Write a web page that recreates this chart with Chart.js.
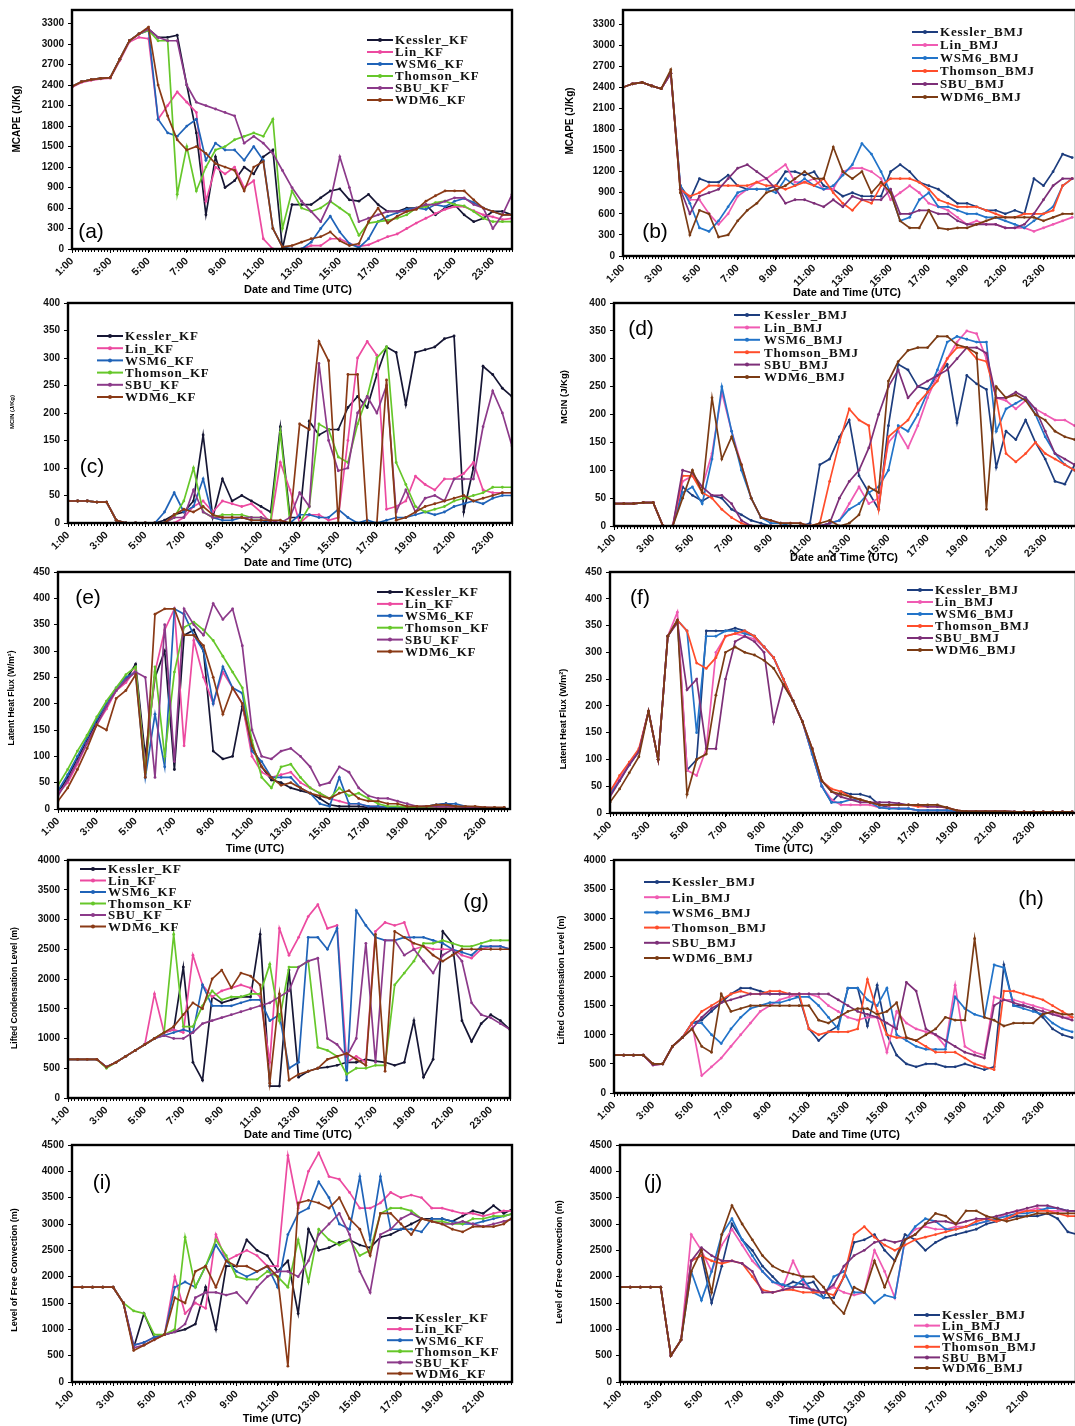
<!DOCTYPE html>
<html><head><meta charset="utf-8">
<script src="https://cdn.jsdelivr.net/npm/chart.js@4.4.1/dist/chart.umd.min.js"></script>
<style>
html,body{margin:0;padding:0;background:#fff;}
body{width:1075px;height:1426px;overflow:hidden;position:relative;}
canvas{position:absolute;}
</style></head><body>
<script>
// ---------- shared axes / names ----------
const hours = [1,1.5,2,2.5,3,3.5,4,4.5,5,5.5,6,6.5,7,7.5,8,8.5,9,9.5,10,10.5,11,11.5,12,12.5,13,13.5,14,14.5,15,15.5,16,16.5,17,17.5,18,18.5,19,19.5,20,20.5,21,21.5,22,22.5,23,23.5,24,24.5,25];
const xTickHours = [1,3,5,7,9,11,13,15,17,19,21,23];
const yTicksCape = [0,300,600,900,1200,1500,1800,2100,2400,2700,3000,3300];
const yTicksCin = [0,50,100,150,200,250,300,350,400];
const yTicksLhf = [0,50,100,150,200,250,300,350,400,450];
const yTicksLcl = [0,500,1000,1500,2000,2500,3000,3500,4000];
const yTicksLfc = [0,500,1000,1500,2000,2500,3000,3500,4000,4500];
const namesKF = ['Kessler_KF','Lin_KF','WSM6_KF','Thomson_KF','SBU_KF','WDM6_KF'];
const namesBMJ = ['Kessler_BMJ','Lin_BMJ','WSM6_BMJ','Thomson_BMJ','SBU_BMJ','WDM6_BMJ'];

// ---------- (a) MCAPE KF ----------
const aKessler = [2380,2450,2480,2500,2510,2780,3050,3150, 3220,3100,3100,3130,2400,1700,500,1350, 900,1000,1200,1100,1350,1450,0,650, 650,650,750,850,880,720,700,800, 650,550,550,600,600,650,500,600, 650,500,400,450,550,550,500];
const aLin = [2370,2440,2470,2490,2500,2760,3030,3100, 3080,1900,2100,2300,2150,2000,700,1200, 1100,1200,900,1000,150,0,0,0, 0,50,50,150,150,80,40,60, 120,180,220,300,380,450,520,580, 620,620,560,500,470,430,450];
const aWSM6 = [2380,2450,2480,2500,2510,2780,3050,3150, 3200,1900,1700,1650,1800,1900,1300,1550, 1450,1450,1300,1500,1300,300,30,0, 0,100,300,480,250,80,20,150, 400,480,530,580,600,580,650,620, 700,740,680,600,550,500,500];
const aThomson = [2380,2450,2480,2500,2510,2780,3050,3150, 3200,3050,3050,800,1500,850,1200,1450, 1500,1600,1650,1700,1650,1900,300,850, 600,550,600,700,600,500,200,380, 400,420,450,500,600,620,680,700, 650,630,550,450,400,400,400];
const aSBU = [2380,2450,2480,2500,2510,2780,3050,3150, 3220,3100,3050,3050,2400,2150,2100,2050, 2000,1950,1550,1650,1550,1400,1150,900, 700,550,400,700,1350,900,400,450, 500,550,550,550,600,650,650,700, 750,750,650,600,300,500,800];
const aWDM6 = [2380,2450,2480,2500,2510,2780,3050,3150, 3250,2400,1950,1600,1450,1500,1400,1250, 1200,1150,850,1200,1280,300,30,50, 100,150,180,250,120,50,80,400, 600,380,480,550,580,700,780,850, 850,850,720,600,550,500,500];

// ---------- (b) MCAPE BMJ ----------
const bKessler = [2400,2450,2470,2420,2380,2600,1000,800, 1100,1050,1050,1150,1000,950,950,950, 1000,1200,1200,1150,1200,1000,950,850, 900,850,850,850,1200,1300,1200,1050, 1000,950,850,750,750,700,650,650, 600,650,600,1100,1000,1200,1450,1400];
const bLin = [2400,2450,2470,2420,2380,2600,950,800, 800,600,450,600,850,950,1050,1100, 1200,1300,1050,1050,1100,950,950,1200, 1250,1250,1200,1100,800,900,1000,900, 750,700,650,550,450,500,450,450, 400,400,400,350,400,450,500,550];
const bWSM6 = [2400,2450,2470,2420,2380,2600,1000,750, 400,350,500,700,900,950,950,950, 900,1100,1000,1100,1000,950,1000,1150, 1300,1600,1450,1200,900,500,550,800, 900,700,700,650,600,600,550,550, 500,450,400,500,600,700,1000,1100];
const bThomson = [2400,2450,2470,2420,2380,2600,950,850, 900,1000,1000,1000,1000,1000,1050,1000, 1000,950,1000,1050,1000,1100,900,750, 650,800,750,1000,1100,1100,1100,1050, 950,800,750,700,700,700,650,600, 550,550,600,600,600,650,1000,1100];
const bSBU = [2400,2450,2470,2420,2380,2600,950,600, 850,900,950,1100,1250,1300,1200,1100, 950,750,800,800,750,700,800,700, 850,800,800,800,950,600,600,650, 650,600,600,500,450,450,450,450, 400,400,450,600,800,1000,1100,1100];
const bWDM6 = [2400,2450,2470,2420,2380,2650,900,300, 650,600,270,300,500,650,750,900, 950,1000,1100,1200,1100,1100,1550,1200, 1100,1200,900,1050,900,500,400,400, 650,400,380,400,400,450,500,550, 550,550,550,550,500,550,600,600];

// ---------- (c) MCIN KF ----------
const cKessler = [40,40,40,38,38,5,0,0, 0,0,5,15,20,40,160,10, 80,40,50,40,30,20,175,10, 10,185,160,170,170,210,230,210, 270,320,310,215,310,315,320,335, 340,20,100,285,270,245,230];
const cLin = [40,40,40,38,38,5,0,0, 0,0,0,0,10,30,40,20, 40,35,30,35,20,0,110,60, 0,15,15,5,10,150,300,330, 305,25,30,40,85,70,60,80, 80,90,110,60,55,55,55];
const cWSM6 = [40,40,40,38,38,5,0,0, 0,0,20,55,20,30,80,10, 5,5,10,5,5,0,0,0, 15,15,10,10,25,10,0,5, 0,5,10,10,15,20,15,20, 30,35,40,35,45,50,50];
const cThomson = [40,40,40,38,38,5,0,0, 0,0,0,10,40,100,20,10, 15,15,15,10,10,5,165,0, 0,30,180,170,120,110,180,230, 300,320,110,70,30,20,25,30, 40,45,50,55,65,65,65];
const cSBU = [40,40,40,38,38,5,0,0, 0,0,0,10,10,60,20,10, 10,10,10,10,10,5,0,10, 55,30,290,150,95,100,200,230, 200,250,20,60,20,45,50,40, 80,80,80,175,240,200,140];
const cWDM6 = [40,40,40,38,38,5,0,0, 0,0,0,15,25,20,30,15, 10,10,10,5,5,5,5,0, 180,170,330,295,0,270,270,0, 0,260,5,10,20,30,35,40, 45,50,40,45,50,55,55];

// ---------- (d) MCIN BMJ ----------
const dKessler = [40,40,40,42,42,0,0,70, 55,45,55,50,30,20,10,5, 0,0,0,0,5,110,120,160, 190,90,60,30,180,290,280,250, 245,270,290,185,270,255,245,105, 170,155,190,150,120,80,75,110];
const dLin = [40,40,40,42,42,0,0,80, 90,70,130,240,170,110,50,15, 10,5,5,5,0,0,5,10, 40,70,40,50,150,170,140,180, 230,270,300,330,350,345,300,230, 225,210,225,210,200,190,190,180];
const dWSM6 = [40,40,40,42,42,0,0,60, 70,40,120,250,170,100,50,15, 5,5,0,0,0,0,5,10, 30,40,60,70,100,180,170,200, 240,280,330,340,335,330,330,170, 210,220,230,200,160,130,110,100];
const dThomson = [40,40,40,42,42,0,0,90, 90,60,50,30,15,5,0,0, 0,0,0,0,0,5,80,150, 210,190,180,30,160,175,190,220, 240,260,300,320,320,300,295,230, 130,115,130,150,130,120,110,100];
const dSBU = [40,40,40,42,42,0,0,100, 95,70,55,55,40,10,0,0, 0,0,0,0,0,0,5,50, 80,100,140,200,250,280,230,250, 260,270,280,300,320,320,310,230, 230,240,230,210,170,130,120,110];
const dWDM6 = [40,40,40,42,42,0,0,50, 100,60,230,120,160,110,50,15, 10,5,5,5,0,5,10,0, 5,20,70,60,260,295,315,320, 320,340,340,325,320,310,30,250, 230,235,225,200,190,170,160,155];

// ---------- (e) Latent heat flux KF ----------
const eKessler = [30,60,95,130,165,195,225,245, 275,100,250,300,75,330,340,300, 110,95,100,195,120,80,55,50, 40,35,30,20,8,5,5,5, 3,3,3,3,3,3,5,8, 10,5,3,2,2,2,2];
const eLin = [30,50,85,125,160,190,225,240, 265,80,260,340,380,120,320,250, 200,260,230,200,100,70,60,65, 70,50,40,30,20,15,10,10, 5,5,3,3,3,3,3,3, 3,3,3,2,2,2,2];
const eWSM6 = [35,65,100,135,170,200,230,250, 260,60,180,80,380,370,330,300, 200,270,230,220,110,90,60,60, 60,40,30,10,5,60,10,10, 5,5,3,3,3,3,5,8, 10,10,5,3,2,2,2];
const eThomson = [45,75,110,140,175,205,230,255, 270,70,270,100,260,345,355,340, 320,290,260,230,130,60,40,80, 85,60,40,30,20,40,25,30, 20,10,5,5,3,3,3,5, 5,5,3,3,2,2,2];
const eSBU = [25,55,90,125,160,195,225,245, 260,250,60,350,90,380,350,330, 390,360,380,310,150,100,95,110, 115,100,80,45,50,80,70,40, 25,20,20,15,10,5,5,5, 5,5,3,3,3,2,2];
const eWDM6 = [15,40,75,115,160,150,210,225, 255,60,370,380,380,330,330,310, 250,180,230,200,120,80,60,45, 50,40,30,25,20,30,35,20, 15,15,10,10,5,5,5,8, 8,5,5,5,3,3,3];

// ---------- (f) Latent heat flux BMJ ----------
const fKessler = [40,65,90,115,190,100,330,360, 80,100,340,340,340,345,340,330, 310,290,250,210,170,110,50,20, 40,35,35,30,15,10,8,8, 5,5,5,5,3,3,3,3, 3,3,2,2,2,2,2,2,2];
const fLin = [40,65,90,115,190,100,330,375, 80,70,120,300,330,335,330,325, 310,290,250,210,170,110,50,25, 15,15,15,15,10,10,8,8, 5,5,5,5,3,3,3,3, 3,3,2,2,2,2,2,2,2];
const fWSM6 = [35,60,90,115,190,100,330,360, 340,150,330,330,340,340,335,330, 310,290,250,210,170,110,50,20, 20,25,25,20,10,8,8,8, 5,5,5,5,3,3,3,3, 3,3,2,2,2,2,2,2,2];
const fThomson = [40,70,95,120,190,100,330,360, 340,280,270,290,330,335,340,330, 310,290,250,210,170,120,60,45, 40,30,25,20,15,15,15,15, 12,12,12,10,5,3,3,3, 3,3,2,2,2,2,2,2,2];
const fSBU = [30,60,90,115,190,100,330,355, 230,250,120,120,250,320,330,320, 300,170,240,210,170,120,60,40, 30,25,20,20,20,20,18,15, 15,12,12,10,5,3,3,3, 3,3,2,2,2,2,2,2,2];
const fWDM6 = [20,45,75,105,190,100,330,360, 35,100,110,220,300,310,300,295, 285,270,240,210,170,120,60,40, 35,30,25,20,15,15,15,15, 15,15,15,10,5,3,3,3, 3,3,2,2,2,2,2,2,2];

// ---------- (g) LCL KF ----------
const gKessler = [650,650,650,650,520,600,700,800, 900,1000,1100,1150,2200,600,300,1700, 1600,1650,1700,1700,2750,200,200,2150, 350,450,500,520,550,600,600,650, 620,600,550,600,1300,350,650,2800, 2600,1300,950,1250,1400,1300,1150];
const gLin = [650,650,650,650,520,600,700,800, 900,1750,1100,1150,1100,2400,1900,1700, 1800,1850,1900,1850,1700,600,2850,2400, 2700,3050,3250,2850,2900,600,700,600, 2800,2950,2900,2950,2500,2550,2500,2500, 2500,2400,2350,2500,2550,2550,2500];
const gWSM6 = [650,650,650,650,520,600,700,800, 900,1000,1050,1100,1150,1100,1900,1550, 1550,1550,1600,1650,1650,1300,1400,500, 600,2700,2700,2500,2850,300,3150,2900, 2700,2650,2650,2700,2700,2700,2650,2600, 2500,2450,2400,2550,2550,2550,2500];
const gThomson = [650,650,650,650,500,600,700,800, 900,1000,1100,2750,1200,1200,1550,1800, 1650,1700,1700,1750,1750,2250,1300,2200, 2200,2300,850,800,700,400,500,500, 550,550,1900,2100,2300,2600,2600,2650, 2600,2550,2550,2600,2650,2650,2650];
const gSBU = [650,650,650,650,520,600,700,800, 900,1000,1050,1000,1000,1100,1250,1300, 1350,1400,1450,1500,1550,1600,1700,1800, 2200,2300,2350,1000,900,700,1000,2600, 600,2650,2650,2400,2500,2300,2100,2400, 2500,2300,1600,1400,1350,1250,1150];
const gWDM6 = [650,650,650,650,520,600,700,800, 900,1000,1100,1200,1400,1600,1500,2000, 2150,1850,2100,2050,1900,250,1750,300, 400,450,500,650,700,750,650,550, 2750,450,2800,2700,2600,2550,2400,2300, 2400,2500,2500,2500,2500,2500,2500];

// ---------- (h) LCL BMJ ----------
const hKessler = [650,650,650,650,500,500,800,950, 1200,1250,1400,1550,1700,1800,1800,1750, 1700,1700,1700,1650,1100,900,1050,1150, 1800,1800,1150,1850,1000,650,500,450, 500,500,450,450,500,450,400,450, 2200,1500,1500,1450,1300,1100,1000,950];
const hLin = [650,650,650,650,480,500,800,950, 1200,300,450,600,800,1000,1200,1400, 1500,1600,1650,1700,1700,1650,1500,1400, 1300,1250,1300,1300,700,1400,1200,1100, 1050,1000,800,1850,800,700,650,1650, 1600,1600,1550,1500,1450,1400,1300,1300];
const hWSM6 = [650,650,650,650,500,500,800,950, 1200,1200,1000,850,1100,1300,1450,1500, 1550,1550,1600,1650,1650,1500,1300,1100, 1800,1800,1600,1500,1800,1000,900,800, 750,750,750,1650,1450,1350,1300,2200, 2150,1500,1450,1400,1350,1200,1100,1050];
const hThomson = [650,650,650,650,500,500,800,950, 1200,1400,1500,1600,1700,1750,1700,1700, 1750,1750,1700,1700,1100,1000,1050,1050, 1050,1100,1950,1400,1000,950,950,900, 800,700,700,700,600,500,450,400, 1750,1750,1700,1650,1600,1500,1400,1300];
const hSBU = [650,650,650,650,480,500,800,950, 1100,1300,1450,1550,1600,1650,1700,1700, 1700,1700,1700,1700,1700,1700,1700,1600, 1500,1400,1350,1300,1200,1100,1900,1750, 1100,1000,900,800,700,650,600,1500, 1600,1550,1500,1450,1400,1350,1300,1250];
const hWDM6 = [650,650,650,650,500,500,800,950, 1100,800,700,1700,1400,1450,1500,1500, 1500,1500,1500,1500,1500,1250,1200,1300, 1400,1450,1450,1350,1400,1550,950,900, 1000,1100,1300,1250,1250,2650,1300,1250, 1150,1200,1200,1200,1350,1400,1350,1350];

// ---------- (i) LFC KF ----------
const iKessler = [1800,1800,1800,1800,1800,1500,650,1300, 850,900,950,1000,1100,1800,1000,2200, 2200,2700,2500,2400,2100,2300,1300,2900, 2500,2550,2650,2700,2600,2550,2750,2800, 2900,3000,3100,3100,3100,3050,3150,3250, 3200,3350,3200,3300];
const iLin = [1800,1800,1800,1800,1800,1500,700,750, 850,900,2000,1300,1500,1400,2800,2300, 2400,2500,2400,2200,2200,4300,3300,4000, 4350,3900,3850,3600,3300,3300,3400,3600, 3500,3550,3500,3300,3300,3250,3200,3200, 3150,3200,3250,3250];
const iWSM6 = [1800,1800,1800,1800,1800,1500,700,750, 850,900,1800,1900,1800,2200,2600,2300, 2100,2000,2100,2200,1800,2800,3200,3300, 3800,3500,3000,2900,3900,2700,3900,2900, 2900,2900,2850,3100,3100,3050,3000,3000, 3050,3100,3150,3200];
const iThomson = [1800,1800,1800,1800,1800,1500,1350,1300, 900,900,1000,2750,1800,2200,2700,2400, 2000,1950,1950,2100,2000,1800,2700,1900, 2900,2700,2600,2700,2400,2500,3200,3300, 3300,3250,3100,3050,3050,3000,3000,3100, 3100,3150,3150,3200];
const iSBU = [1800,1800,1800,1800,1800,1500,650,700, 800,900,950,1100,1600,1700,1700,1650, 1700,1500,1800,2000,2100,2100,2000,2300, 2800,3000,3200,2800,2100,1700,2800,2900, 3100,3200,3100,3050,3000,3000,3050,3000, 2950,3000,3050,3100];
const iWDM6 = [1800,1800,1800,1800,1800,1500,600,700, 800,900,1600,1500,2100,2200,1800,2300, 2200,2200,2100,2200,2000,300,3400,3450, 3400,3300,3500,3100,2900,2400,3200,3200, 3000,2800,3100,3050,3000,2900,2850,2950, 2950,2950,3000,3150];

// ---------- (j) LFC BMJ ----------
const jKessler = [1800,1800,1800,1800,1800,500,800,2300, 2400,1500,2200,3000,2700,2500,2200,2000, 1800,1900,1850,1900,1600,1600,2000,2650, 2700,2800,2500,2300,2800,2700,2500,2650, 2750,2800,2850,2900,3000,3050,3100,3150, 3150,3150,3200,3100,2850,2800];
const jLin = [1800,1800,1800,1800,1800,500,800,2800, 2500,2100,2600,2900,2600,2300,2100,1900, 1800,2300,1900,1700,1700,1800,1700,1650, 1700,2500,2100,1600,2700,2900,2950,2900, 2900,2950,2950,3000,3050,3100,3200,3250, 3250,3300,3250,3250,3250,3250];
const jWSM6 = [1800,1800,1800,1800,1800,500,800,2100, 1550,2100,2800,3100,2700,2400,2100,1900, 1850,1800,1950,1700,1600,2000,2100,1700, 1700,1500,1650,1600,2700,2950,3100,3050, 2900,2900,2950,3000,3050,3100,3150,3200, 3200,3250,3300,3300,3250,3250];
const jThomson = [1800,1800,1800,1800,1800,500,800,2300, 2400,2300,2250,2300,2250,2000,1750,1700, 1750,1750,1700,1700,1700,1650,2000,2800, 2950,2750,2600,2500,2600,2700,2750,2800, 2850,2900,2950,3050,3100,3050,3100,3200, 3250,3250,3250,3200,3150,3150];
const jSBU = [1800,1800,1800,1800,1800,500,800,2300, 2550,2400,2300,2300,2250,2100,1700,1700, 1750,1800,1800,1750,1700,1850,2200,2400, 2500,2650,2700,2650,2700,2800,3000,3050, 3050,3000,3050,3100,3100,3150,3200,3250, 3300,3350,3350,3300,3250,3250];
const jWDM6 = [1800,1800,1800,1800,1800,500,800,2100, 2500,1700,2800,3350,3000,2700,2400,2200, 2100,2050,2000,2000,1800,1500,1300,1800, 1700,2300,1800,2300,2700,2800,3000,3200, 3150,3000,3250,3250,3150,3100,3050,3100, 3150,3200,3200,3200,3200,3200];

// ---------- styles ----------
const colorsKF = ['#161634','#ec4aa0','#1f63b8','#66c72a','#8c3a8a','#8a3a16'];
const colorsBMJ = ['#1d3d7e','#f05bb3','#2274c9','#ff4d2b','#7d2f78','#7b3b14'];
Chart.defaults.font.family = '"Liberation Sans", Arial, sans-serif';

const panels = [
  {id:'a', cx:0, cy:0, cw:537, ch:298, L:72, R:512, T:10, B:249, xmax:24, xtMax:23, ymax:3500, yt:yTicksCape, kind:'KF',
   series:[aKessler,aLin,aWSM6,aThomson,aSBU,aWDM6], ytitle:'MCAPE (J/Kg)', yfs:10, ytx:17, yty:119,
   xtitle:'Date and Time (UTC)', xtx:298, xty:290, lab:'(a)', labx:91, laby:232, lg:[367,395,40,12]},
  {id:'b', cx:537, cy:0, cw:553, ch:300, L:623, R:1076, T:10, B:256, xmax:24.7, xtMax:23, ymax:3500, yt:yTicksCape, kind:'BMJ',
   series:[bKessler,bLin,bWSM6,bThomson,bSBU,bWDM6], ytitle:'MCAPE (J/Kg)', yfs:10, ytx:570, yty:121,
   xtitle:'Date and Time (UTC)', xtx:847, xty:293, lab:'(b)', labx:655, laby:232, lg:[912,940,32,13]},
  {id:'c', cx:0, cy:289, cw:537, ch:281, L:68, R:512, T:303, B:523, xmax:24, xtMax:23, ymax:400, yt:yTicksCin, kind:'KF',
   series:[cKessler,cLin,cWSM6,cThomson,cSBU,cWDM6], ytitle:'MCIN (J/Kg)', yfs:6, ytx:12, yty:412,
   xtitle:'Date and Time (UTC)', xtx:298, xty:563, lab:'(c)', labx:92, laby:467, lg:[97,125,336,12.2]},
  {id:'d', cx:537, cy:289, cw:553, ch:277, L:614, R:1076, T:303, B:526, xmax:24.57, xtMax:23, ymax:400, yt:yTicksCin, kind:'BMJ',
   series:[dKessler,dLin,dWSM6,dThomson,dSBU,dWDM6], ytitle:'MCIN (J/Kg)', yfs:9.5, ytx:564, yty:397,
   xtitle:'Date and Time (UTC)', xtx:844, xty:558, lab:'(d)', labx:641, laby:329, lg:[734,764,315,12.4]},
  {id:'e', cx:0, cy:558, cw:537, ch:299, L:58, R:510, T:572, B:809, xmax:24.3, xtMax:23, ymax:450, yt:yTicksLhf, kind:'KF',
   series:[eKessler,eLin,eWSM6,eThomson,eSBU,eWDM6], ytitle:'Latent Heat Flux (W/m\u00B2)', yfs:8.5, ytx:12, yty:698,
   xtitle:'Time (UTC)', xtx:255, xty:849, lab:'(e)', labx:88, laby:598, lg:[377,405,592,11.9]},
  {id:'f', cx:537, cy:558, cw:553, ch:299, L:610, R:1076, T:572, B:813, xmax:25.2, xtMax:23, ymax:450, yt:yTicksLhf, kind:'BMJ',
   series:[fKessler,fLin,fWSM6,fThomson,fSBU,fWDM6], ytitle:'Latent Heat Flux (W/m\u00B2)', yfs:9, ytx:564, yty:719,
   xtitle:'Time (UTC)', xtx:784, xty:849, lab:'(f)', labx:640, laby:598, lg:[907,935,590,12]},
  {id:'g', cx:0, cy:846, cw:537, ch:297, L:68, R:510, T:860, B:1098, xmax:24, xtMax:23, ymax:4000, yt:yTicksLcl, kind:'KF',
   series:[gKessler,gLin,gWSM6,gThomson,gSBU,gWDM6], ytitle:'Lifted Condensation Level (m)', yfs:8.5, ytx:15, yty:988,
   xtitle:'Date and Time (UTC)', xtx:298, xty:1135, lab:'(g)', labx:476, laby:902, lg:[80,108,869,11.5]},
  {id:'h', cx:537, cy:846, cw:553, ch:297, L:614, R:1076, T:860, B:1093, xmax:24.7, xtMax:23, ymax:4000, yt:yTicksLcl, kind:'BMJ',
   series:[hKessler,hLin,hWSM6,hThomson,hSBU,hWDM6], ytitle:'Lifted Condensation Level (m)', yfs:9, ytx:562, yty:980,
   xtitle:'Date and Time (UTC)', xtx:846, xty:1135, lab:'(h)', labx:1031, laby:899, lg:[644,672,882,15.2]},
  {id:'i', cx:0, cy:1131, cw:537, ch:295, L:72, R:512, T:1145, B:1382, xmax:22.4, xtMax:21, ymax:4500, yt:yTicksLfc, kind:'KF',
   series:[iKessler,iLin,iWSM6,iThomson,iSBU,iWDM6], ytitle:'Level of Free Convection (m)', yfs:9, ytx:15, yty:1270,
   xtitle:'Time (UTC)', xtx:272, xty:1419, lab:'(i)', labx:102, laby:1183, lg:[387,415,1318,11.1]},
  {id:'j', cx:537, cy:1131, cw:553, ch:295, L:620, R:1076, T:1145, B:1382, xmax:23.4, xtMax:21, ymax:4500, yt:yTicksLfc, kind:'BMJ',
   series:[jKessler,jLin,jWSM6,jThomson,jSBU,jWDM6], ytitle:'Level of Free Convection (m)', yfs:9, ytx:560, yty:1262,
   xtitle:'Time (UTC)', xtx:818, xty:1421, lab:'(j)', labx:653, laby:1183, lg:[914,942,1315,10.6]}
];

function makeDecor(p, colors, names) {
  return {
    id: 'decor_' + p.id,
    afterDatasetsDraw(chart) {
      const ctx = chart.ctx, a = chart.chartArea, xs = chart.scales.x;
      const ox = p.cx, oy = p.cy;
      ctx.save();
      // minor x ticks
      ctx.strokeStyle = '#000'; ctx.lineWidth = 1;
      ctx.beginPath();
      for (let m = Math.ceil(xs.min * 6); m <= Math.floor(xs.max * 6); m++) {
        const px = Math.round(xs.getPixelForValue(m / 6)) + 0.5;
        ctx.moveTo(px, a.bottom); ctx.lineTo(px, a.bottom + 3);
      }
      ctx.stroke();
      // frame
      ctx.lineWidth = 2.4;
      ctx.strokeRect(a.left, a.top, a.right - a.left, a.bottom - a.top);
      // legend
      const [lx, tx, y0, dy] = p.lg;
      ctx.textBaseline = 'middle'; ctx.textAlign = 'left';
      ctx.font = 'bold 13px "Liberation Serif", "Times New Roman", serif';
      if ('letterSpacing' in ctx) ctx.letterSpacing = '0.8px';
      names.forEach((n, i) => {
        const y = y0 + i * dy - oy;
        ctx.strokeStyle = colors[i]; ctx.lineWidth = 2;
        ctx.beginPath(); ctx.moveTo(lx - ox, y); ctx.lineTo(lx + 26 - ox, y); ctx.stroke();
        ctx.fillStyle = colors[i];
        ctx.beginPath(); ctx.arc(lx + 13 - ox, y, 2, 0, Math.PI * 2); ctx.fill();
        ctx.fillStyle = '#111';
        ctx.fillText(n, tx - ox, y + 1);
      });
      if ('letterSpacing' in ctx) ctx.letterSpacing = '0px';
      // panel label
      ctx.fillStyle = '#000'; ctx.textAlign = 'center';
      ctx.font = '21px "Liberation Sans", Arial, sans-serif';
      ctx.fillText(p.lab, p.labx - ox, p.laby - oy);
      // x title
      ctx.font = 'bold 11px "Liberation Sans", Arial, sans-serif';
      ctx.fillText(p.xtitle, p.xtx - ox, p.xty - oy);
      // y title
      ctx.save();
      ctx.translate(p.ytx - ox, p.yty - oy);
      ctx.rotate(-Math.PI / 2);
      ctx.font = 'bold ' + p.yfs + 'px "Liberation Sans", Arial, sans-serif';
      ctx.fillText(p.ytitle, 0, 0);
      ctx.restore();
      ctx.restore();
    }
  };
}

panels.forEach(p => {
  const cv = document.createElement('canvas');
  cv.width = p.cw; cv.height = p.ch;
  cv.style.left = p.cx + 'px'; cv.style.top = p.cy + 'px';
  cv.style.width = p.cw + 'px'; cv.style.height = p.ch + 'px';
  document.body.appendChild(cv);
  const colors = p.kind === 'KF' ? colorsKF : colorsBMJ;
  const names = p.kind === 'KF' ? namesKF : namesBMJ;
  const datasets = p.series.map((vals, i) => ({
    label: names[i],
    data: vals.map((v, k) => ({x: hours[k], y: v})),
    borderColor: colors[i],
    backgroundColor: colors[i],
    pointBackgroundColor: colors[i],
    borderWidth: 1.7,
    pointRadius: 1.4,
    pointBorderWidth: 0,
    pointHoverRadius: 1.4,
    tension: 0,
    order: 5 - i
  }));
  const tickFont = {family: '"Liberation Sans", Arial, sans-serif', size: 10, weight: 'bold'};
  new Chart(cv.getContext('2d'), {
    type: 'line',
    data: {datasets},
    options: {
      responsive: false, animation: false, devicePixelRatio: 1,
      layout: {padding: {left: 0, top: p.T - p.cy, right: (p.cx + p.cw) - p.R, bottom: 0}},
      plugins: {legend: {display: false}, tooltip: {enabled: false}},
      scales: {
        x: {
          type: 'linear', min: 1, max: p.xmax,
          afterFit: s => { s.height = (p.cy + p.ch) - p.B; },
          afterBuildTicks: s => { s.ticks = xTickHours.filter(v => v <= p.xtMax).map(v => ({value: v})); },
          ticks: {callback: v => v + ':00', minRotation: 45, maxRotation: 45, autoSkip: false, font: {...tickFont, size: 10.5}, color: '#111', padding: 2},
          grid: {display: true, drawOnChartArea: false, drawTicks: true, tickLength: 4, color: '#000', lineWidth: 1},
          border: {display: false}
        },
        y: {
          min: 0, max: p.ymax,
          afterFit: s => { s.width = p.L - p.cx; },
          afterBuildTicks: s => { s.ticks = p.yt.map(v => ({value: v})); },
          ticks: {callback: v => String(v), font: tickFont, color: '#111', padding: 4},
          grid: {display: true, drawOnChartArea: false, drawTicks: true, tickLength: 4, color: '#000', lineWidth: 1},
          border: {display: false}
        }
      }
    },
    plugins: [makeDecor(p, colors, names)]
  });
});
</script>
</body></html>
